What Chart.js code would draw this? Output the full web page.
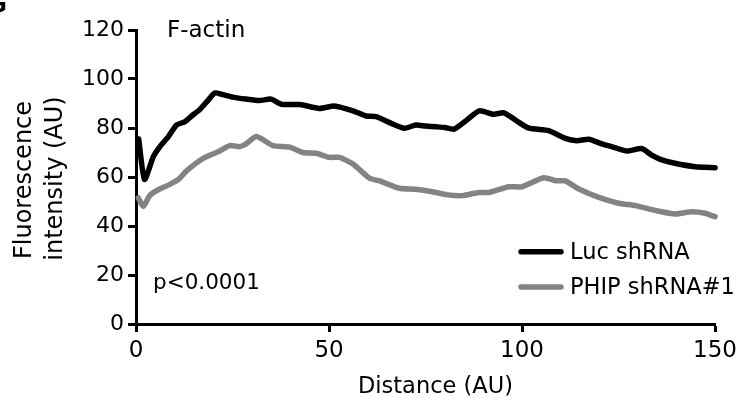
<!DOCTYPE html>
<html><head><meta charset="utf-8">
<script src="https://cdn.jsdelivr.net/npm/chart.js@4"></script>
<style>html,body{margin:0;padding:0;background:#fff;overflow:hidden}canvas{display:block}</style>
</head><body>
<canvas id="c" width="742" height="398" style="width:742px;height:398px"></canvas>
<script>
// ---- data ----
const lucX = [0.7, 2.2, 4.5, 6.2, 8.4, 10.5, 12.7, 14.5, 16.5, 18.5, 20.4, 22.5, 25.1, 28.5, 32, 35, 37.6, 42.4, 47.5, 51.4, 56.2, 59.6, 62.2, 66, 69.5, 72.5, 75, 77.7, 80, 82.4, 85.5, 88.9, 92.7, 95.3, 98.5, 101.8, 106.9, 111.2, 114.2, 117.3, 120.7, 124, 127.2, 131, 133.5, 135.8, 139.6, 144.8, 150];
const lucY = [75.5, 59, 68.3, 72.4, 76.5, 81.2, 82.6, 85, 87.5, 91, 94.3, 93.6, 92.6, 91.8, 91.2, 91.8, 89.7, 89.6, 88, 89, 87, 84.9, 84.6, 82, 79.9, 81.2, 80.8, 80.5, 80.2, 79.5, 83, 87, 85.6, 86.2, 83, 79.9, 78.9, 75.8, 74.8, 75.4, 73.5, 72, 70.6, 71.6, 69, 67.2, 65.6, 64.2, 63.8];
const phipX = [0.6, 1.9, 3.6, 6, 8.8, 11, 13.1, 17.4, 21.3, 24.3, 26.9, 28.5, 31.2, 35.5, 39.8, 43.2, 46.7, 50.1, 52.7, 56.2, 60.5, 63.1, 68.2, 72.5, 76.8, 80.7, 84.6, 88.4, 91.5, 96.6, 100, 105.6, 108.7, 111.2, 114.7, 119.9, 125, 129.4, 134.9, 139.7, 144, 147.4, 150];
const phipY = [51.5, 48, 52.5, 55, 57, 59, 62.5, 67.6, 70.3, 72.8, 72.4, 73.5, 76.5, 72.8, 72.2, 70, 69.7, 68, 68, 65.3, 59.5, 58.4, 55.4, 55, 54, 52.7, 52.4, 53.6, 53.7, 56, 56, 59.7, 58.5, 58.4, 55.1, 51.7, 49.3, 48.3, 46.2, 44.9, 45.8, 45.2, 43.8];
const seriesNames = ['Luc shRNA', 'PHIP shRNA#1'];
const xTicks = [0, 50, 100, 150];
const yTicks = [0, 20, 40, 60, 80, 100, 120];
const xTitle = 'Distance (AU)';
const yTitle = ['Fluorescence', 'intensity (AU)'];
const panelTitle = 'F-actin';
const pText = 'p<0.0001';
const panelLetter = 'G';

const FONT = '"DejaVu Sans"';
Chart.defaults.font.family = FONT;
Chart.defaults.color = '#000';

const toPts = (xs, ys) => xs.map((x, i) => ({x: x, y: ys[i]}));

const textPlugin = {
  id: 'texts',
  afterDraw(chart) {
    const ctx = chart.ctx;
    ctx.save();
    ctx.fillStyle = '#000';
    ctx.textAlign = 'left';
    ctx.textBaseline = 'alphabetic';
    // panel letter (clipped at corner)
    ctx.font = 'bold 30px "Liberation Sans"';
    ctx.textAlign = 'right';
    ctx.fillText(panelLetter, 7, 13);
    ctx.textAlign = 'left';
    ctx.font = '23px ' + FONT;
    ctx.fillText(panelTitle, 167, 36.5);
    ctx.font = '21.5px ' + FONT;
    ctx.fillText(pText, 153, 289.3);
    // legend
    const ly = [251.7, 287];
    const tb = [259.3, 294.3];
    chart.data.datasets.forEach((ds, i) => {
      ctx.strokeStyle = ds.borderColor;
      ctx.lineWidth = 5.5;
      ctx.lineCap = 'round';
      ctx.beginPath();
      ctx.moveTo(521, ly[i]);
      ctx.lineTo(561, ly[i]);
      ctx.stroke();
      ctx.font = '22.5px ' + FONT;
      ctx.fillText(ds.label, 570, tb[i]);
    });
    // x title
    ctx.font = '22.5px ' + FONT;
    ctx.fillText(xTitle, 358, 392.5);
    // y title
    ctx.font = '24px ' + FONT;
    ctx.textAlign = 'center';
    [[31, 180], [62, 178.5]].forEach((p, i) => {
      ctx.save();
      ctx.translate(p[0], p[1]);
      ctx.rotate(-Math.PI / 2);
      ctx.fillText(yTitle[i], 0, 0);
      ctx.restore();
    });
    ctx.restore();
  }
};

const axisCommon = {
  type: 'linear',
  border: {display: true, color: '#000', width: 3},
  grid: {display: true, drawOnChartArea: false, drawTicks: true, tickLength: 8, tickWidth: 3, tickColor: '#000'},
};

new Chart(document.getElementById('c'), {
  type: 'line',
  data: {
    datasets: [
      {label: seriesNames[0], data: toPts(lucX, lucY), borderColor: '#000000', borderWidth: 5.5, pointRadius: 0, tension: 0.2, borderJoinStyle: 'round', borderCapStyle: 'round', clip: 8},
      {label: seriesNames[1], data: toPts(phipX, phipY), borderColor: '#838383', borderWidth: 5.5, pointRadius: 0, tension: 0.2, borderJoinStyle: 'round', borderCapStyle: 'round', clip: 8}
    ]
  },
  options: {
    responsive: false,
    animation: false,
    events: [],
    layout: {padding: {top: 30, right: 25, left: 0, bottom: 0}},
    plugins: {legend: {display: false}, tooltip: {enabled: false}, title: {display: false}},
    scales: {
      x: Object.assign({}, axisCommon, {
        min: 0, max: 150,
        afterBuildTicks: s => { s.ticks = xTicks.map(v => ({value: v})); },
        afterFit: s => { s.height = 74; },
        ticks: {color: '#000', font: {size: 23}, padding: 5, maxRotation: 0, autoSkip: false}
      }),
      y: Object.assign({}, axisCommon, {
        min: 0, max: 120,
        afterBuildTicks: s => { s.ticks = yTicks.map(v => ({value: v})); },
        afterFit: s => { s.width = 136; },
        ticks: {color: '#000', font: {size: 22}, padding: 4, autoSkip: false}
      })
    }
  },
  plugins: [textPlugin]
});
</script>
</body></html>
